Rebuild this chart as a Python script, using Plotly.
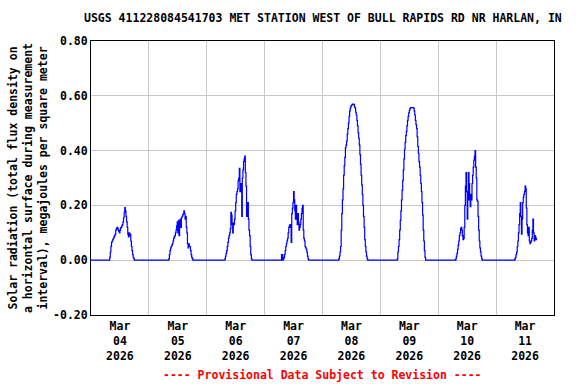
import numpy as np
import pandas as pd
import plotly.graph_objects as go

# ---- data (15-minute solar radiation, MJ/m^2), nonzero daylight periods ----
mar04_start = "2026-03-04 07:45"
mar04 = [0.01, 0.03, 0.05, 0.065, 0.07, 0.075, 0.08, 0.085, 0.09, 0.095, 0.11, 0.115, 0.12, 0.118,
         0.11, 0.105, 0.10, 0.11, 0.118, 0.12, 0.125, 0.13, 0.14, 0.155, 0.175, 0.192, 0.18, 0.16,
         0.14, 0.12, 0.095, 0.085, 0.10, 0.09, 0.095, 0.07, 0.05, 0.035, 0.02, 0.01, 0.005]

mar05_start = "2026-03-05 08:15"
mar05 = [0.005, 0.02, 0.035, 0.045, 0.05, 0.055, 0.06, 0.07, 0.08, 0.085, 0.09, 0.10, 0.11, 0.125,
         0.14, 0.10, 0.145, 0.09, 0.14, 0.15, 0.12, 0.155, 0.16, 0.165, 0.17, 0.18, 0.17, 0.15, 0.16,
         0.12, 0.10, 0.06, 0.045, 0.06, 0.05, 0.05, 0.035, 0.02, 0.01, 0.005]

mar06_start = "2026-03-06 07:30"
mar06 = [0.005, 0.015, 0.025, 0.035, 0.05, 0.065, 0.08, 0.09, 0.10, 0.115, 0.175, 0.165, 0.13, 0.10,
         0.135, 0.13, 0.15, 0.18, 0.21, 0.24, 0.25, 0.26, 0.29, 0.30, 0.335, 0.25, 0.28, 0.27, 0.16,
         0.30, 0.33, 0.36, 0.37, 0.38, 0.32, 0.27, 0.16, 0.20, 0.21, 0.15, 0.11, 0.09, 0.05, 0.02, 0.005]

mar07_start = "2026-03-07 07:00"
mar07 = [0.02, 0.02, 0.0, 0.005, 0.01, 0.02, 0.035, 0.05, 0.06, 0.07, 0.08, 0.10, 0.12, 0.125, 0.13,
         0.12, 0.065, 0.17, 0.19, 0.21, 0.25, 0.22, 0.18, 0.15, 0.20, 0.16, 0.13, 0.17, 0.14, 0.11,
         0.12, 0.13, 0.15, 0.17, 0.19, 0.20, 0.11, 0.08, 0.07, 0.05, 0.045, 0.04, 0.03, 0.015, 0.005]

mar08_start = "2026-03-08 06:45"
mar08 = [0.005, 0.015, 0.03, 0.05, 0.11, 0.17, 0.22, 0.26, 0.31, 0.345, 0.375, 0.41, 0.42, 0.435,
         0.46, 0.48, 0.50, 0.525, 0.545, 0.555, 0.562, 0.565, 0.569, 0.57, 0.57, 0.568, 0.56, 0.555,
         0.54, 0.53, 0.51, 0.49, 0.465, 0.445, 0.42, 0.385, 0.35, 0.31, 0.275, 0.24, 0.20, 0.16, 0.12,
         0.075, 0.05, 0.03, 0.015, 0.005]

mar09_start = "2026-03-09 07:00"
mar09 = [0.005, 0.03, 0.05, 0.075, 0.11, 0.145, 0.18, 0.22, 0.255, 0.29, 0.33, 0.37, 0.405, 0.43,
         0.455, 0.47, 0.49, 0.51, 0.525, 0.538, 0.547, 0.553, 0.557, 0.557, 0.557, 0.557, 0.557, 0.555,
         0.545, 0.53, 0.51, 0.495, 0.48, 0.45, 0.415, 0.39, 0.36, 0.34, 0.31, 0.28, 0.25, 0.21, 0.165,
         0.11, 0.07, 0.035, 0.01]

mar10_start = "2026-03-10 07:15"
mar10 = [0.005, 0.015, 0.025, 0.04, 0.055, 0.07, 0.09, 0.10, 0.115, 0.12, 0.11, 0.09, 0.075, 0.08,
         0.12, 0.20, 0.27, 0.32, 0.25, 0.15, 0.22, 0.32, 0.28, 0.22, 0.195, 0.24, 0.22, 0.28, 0.31,
         0.34, 0.365, 0.38, 0.40, 0.34, 0.30, 0.22, 0.215, 0.16, 0.11, 0.07, 0.045, 0.03, 0.015, 0.005]

mar11_start = "2026-03-11 07:45"
mar11 = [0.005, 0.01, 0.02, 0.03, 0.05, 0.07, 0.10, 0.13, 0.17, 0.21, 0.16, 0.095, 0.15, 0.21, 0.23,
         0.24, 0.25, 0.27, 0.26, 0.19, 0.13, 0.10, 0.09, 0.12, 0.07, 0.06, 0.065, 0.07, 0.08, 0.11,
         0.15, 0.10, 0.07, 0.09, 0.085, 0.075, 0.08]

record_start = "2026-03-04 00:00"
record_end = "2026-03-11 16:45"

x_tick_text = ["Mar<br>04<br>2026", "Mar<br>05<br>2026", "Mar<br>06<br>2026", "Mar<br>07<br>2026",
               "Mar<br>08<br>2026", "Mar<br>09<br>2026", "Mar<br>10<br>2026", "Mar<br>11<br>2026"]
y_tick_vals = [-0.2, 0.0, 0.2, 0.4, 0.6, 0.8]
y_tick_text = ["-0.20", "0.00", "0.20", "0.40", "0.60", "0.80"]

title_text = "USGS 411228084541703 MET STATION WEST OF BULL RAPIDS RD NR HARLAN, IN"
y_title_text = ("Solar radiation (total flux density on<br>a horizontal surface during measurement"
                "<br>interval), megajoules per square meter")
footer_text = "---- Provisional Data Subject to Revision ----"

# ---- assemble series ----
times = pd.date_range(record_start, record_end, freq="15min")
series = pd.Series(np.zeros(len(times)), index=times)
for start, vals in [(mar04_start, mar04), (mar05_start, mar05), (mar06_start, mar06),
                    (mar07_start, mar07), (mar08_start, mar08), (mar09_start, mar09),
                    (mar10_start, mar10), (mar11_start, mar11)]:
    idx = pd.date_range(start, periods=len(vals), freq="15min")
    series.loc[idx] = vals

midnights = pd.date_range("2026-03-04", periods=9, freq="D")
noons = midnights[:-1] + pd.Timedelta(hours=12)

FONT = "DejaVu Sans Mono"
fs = 11.5

fig = go.Figure()
fig.add_trace(go.Scatter(x=series.index, y=series.values, mode="lines",
                         line=dict(color="#0000FF", width=1.2, shape="hv"),
                         hoverinfo="skip", showlegend=False))

fig.update_layout(
    width=576, height=384,
    margin=dict(l=91, r=22, t=41, b=69),
    paper_bgcolor="white", plot_bgcolor="white",
    font=dict(family=FONT, size=fs, color="black", weight="bold"),
    hovermode=False,
    xaxis=dict(
        range=[midnights[0], midnights[-1]],
        tickvals=list(noons), ticktext=x_tick_text,
        showgrid=False, zeroline=False,
        showline=True, linecolor="black", linewidth=1, mirror=True,
        ticks="", ticklen=0,
        tickfont=dict(family=FONT, size=fs, color="black", weight="bold"),
        minor=dict(tickvals=list(midnights), showgrid=True, gridcolor="#c8c8c8", gridwidth=1, ticks=""),
    ),
    yaxis=dict(
        range=[-0.2, 0.8],
        tickvals=y_tick_vals, ticktext=y_tick_text,
        showgrid=True, gridcolor="#c8c8c8", gridwidth=1, zeroline=False,
        showline=True, linecolor="black", linewidth=1, mirror=True,
        ticks="", ticklen=0,
        tickfont=dict(family=FONT, size=fs, color="black", weight="bold"),
    ),
)

fig.add_annotation(text=title_text, xref="paper", yref="paper", x=0.5, y=(315 - 18) / 274,
                   xanchor="center", yanchor="middle", showarrow=False,
                   font=dict(family=FONT, size=fs, color="black", weight="bold"))
fig.add_annotation(text=y_title_text, xref="paper", yref="paper", x=(28 - 91) / 463, y=0.5,
                   xanchor="center", yanchor="middle", textangle=-90, showarrow=False,
                   font=dict(family=FONT, size=fs, color="black", weight="bold"))
fig.add_annotation(text=footer_text, xref="paper", yref="paper", x=0.5, y=(315 - 375) / 274,
                   xanchor="center", yanchor="middle", showarrow=False,
                   font=dict(family=FONT, size=fs, color="#FF0000", weight="bold"))

fig.write_html("out.html", config={"displayModeBar": False, "staticPlot": True},
               post_script="document.body.style.margin='0px';document.body.style.overflow='hidden';")
